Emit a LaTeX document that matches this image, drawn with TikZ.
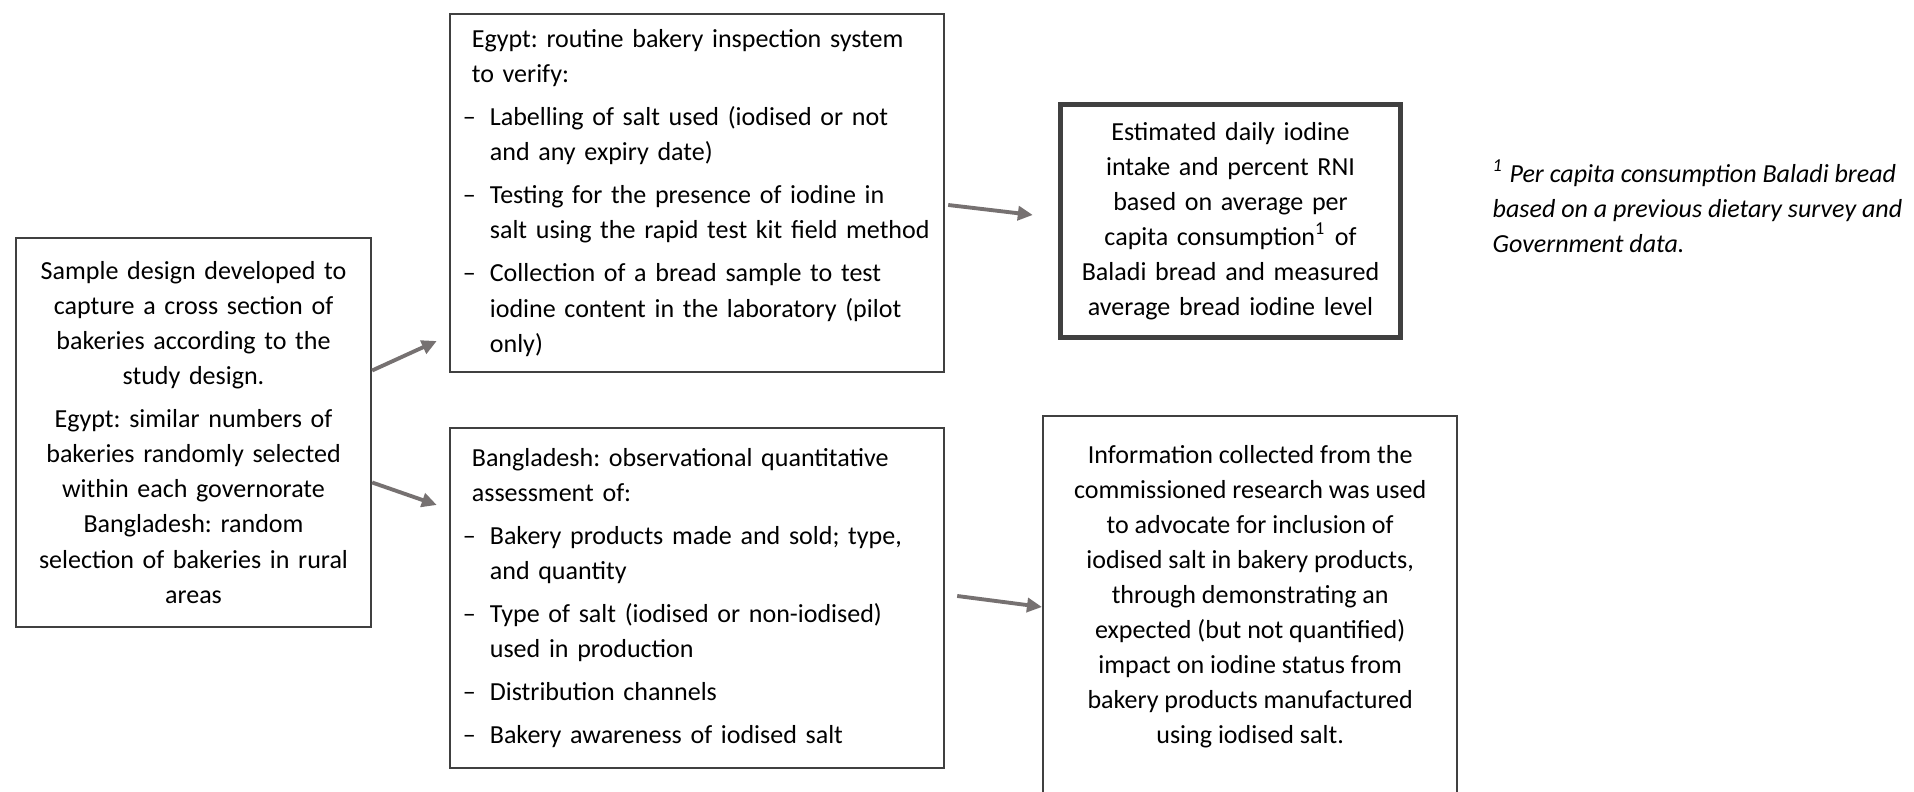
\documentclass[tikz,border=0pt]{standalone}
\usepackage{fontspec}
\setmainfont{Carlito}
\usetikzlibrary{arrows.meta,calc}
\definecolor{edgegrey}{RGB}{64,64,64}
\definecolor{flowgrey}{RGB}{118,113,113}
\newcommand{\bodysize}{\fontsize{7.4pt}{9.96pt}\selectfont\frenchspacing}
\newcommand{\dashitem}[1]{\par\vspace{0.08cm}\hangindent=0.27cm\hangafter=1\noindent\makebox[0.27cm][l]{\textendash}#1\par}
\tikzset{
  panel/.style={draw=edgegrey,line width=0.6pt,inner xsep=0.13cm,inner ysep=0pt,font=\bodysize},
  boldpanel/.style={panel,line width=1.45pt},
  flow/.style={-{Triangle[length=0.15cm,width=0.14cm]},draw=flowgrey,fill=flowgrey,line width=1.1pt},
  note/.style={font=\bodysize\itshape,align=left,inner sep=0pt},
}
\begin{document}
\begin{tikzpicture}[x=0.01cm,y=-0.01cm]
  \path[use as bounding box] (0,0) rectangle (1914,792);

  \node[panel,minimum width=3.55cm,minimum height=3.89cm,text width=3.29cm,align=center] (sample) at (193.5,432.5)
    {Sample design developed to\\ capture a cross section of\\ bakeries according to the\\ study design.\par\vspace{0.08cm}
     Egypt: similar numbers of\\ bakeries randomly selected\\ within each governorate\\ Bangladesh: random\\ selection of bakeries in rural\\ areas};

  \node[panel,minimum width=4.94cm,minimum height=3.58cm,text width=4.68cm,align=left] (inspect) at (697,193)
    {{\leftskip=0.09cm Egypt: routine bakery inspection system\\ to verify:\par}
     \dashitem{Labelling of salt used (iodised or not\newline and any expiry date)}
     \dashitem{Testing for the presence of iodine in\newline salt using the rapid test kit field method}
     \dashitem{Collection of a bread sample to test\newline iodine content in the laboratory (pilot\newline only)}};

  \node[panel,minimum width=4.94cm,minimum height=3.40cm,text width=4.68cm,align=left] (observe) at (697,598)
    {{\leftskip=0.09cm Bangladesh: observational quantitative\\ assessment of:\par}
     \dashitem{Bakery products made and sold; type,\newline and quantity}
     \dashitem{Type of salt (iodised or non-iodised)\newline used in production}
     \dashitem{Distribution channels}
     \dashitem{Bakery awareness of iodised salt}};

  \node[boldpanel,minimum width=3.40cm,minimum height=2.33cm,text width=3.1cm,align=center] (intake) at (1230.5,221)
    {Estimated daily iodine\\ intake and percent RNI\\ based on average per\\ capita consumption\textsuperscript{1} of\\ Baladi bread and measured\\ average bread iodine level};

  \node[panel,anchor=north west,inner xsep=0pt,inner ysep=0.29cm] (advocate) at (1042,415)
    {\parbox[t][3.3cm][t]{4.14cm}{\centering
     Information collected from the\\ commissioned research was used\\ to advocate for inclusion of\\ iodised salt in bakery products,\\ through demonstrating an\\ expected (but not quantified)\\ impact on iodine status from\\ bakery products manufactured\\ using iodised salt.}};

  \node[note,anchor=north west] (footnote) at (1492,159)
    {\textsuperscript{1} Per capita consumption Baladi bread\\ based on a previous dietary survey and\\ Government data.};

  \draw[flow] ($(sample.east)+(0,-62)$) -- ($(inspect.west)+(-12,148)$);
  \draw[flow] ($(sample.east)+(0,50)$) -- ($(observe.west)+(-12,-93)$);
  \draw[flow] ($(inspect.east)+(3,12)$) -- ($(intake.west)+(-25,-6)$);
  \draw[flow] ($(observe.east)+(12,-2)$) -- ($(advocate.north west)+(0,192)$);
\end{tikzpicture}
\end{document}
